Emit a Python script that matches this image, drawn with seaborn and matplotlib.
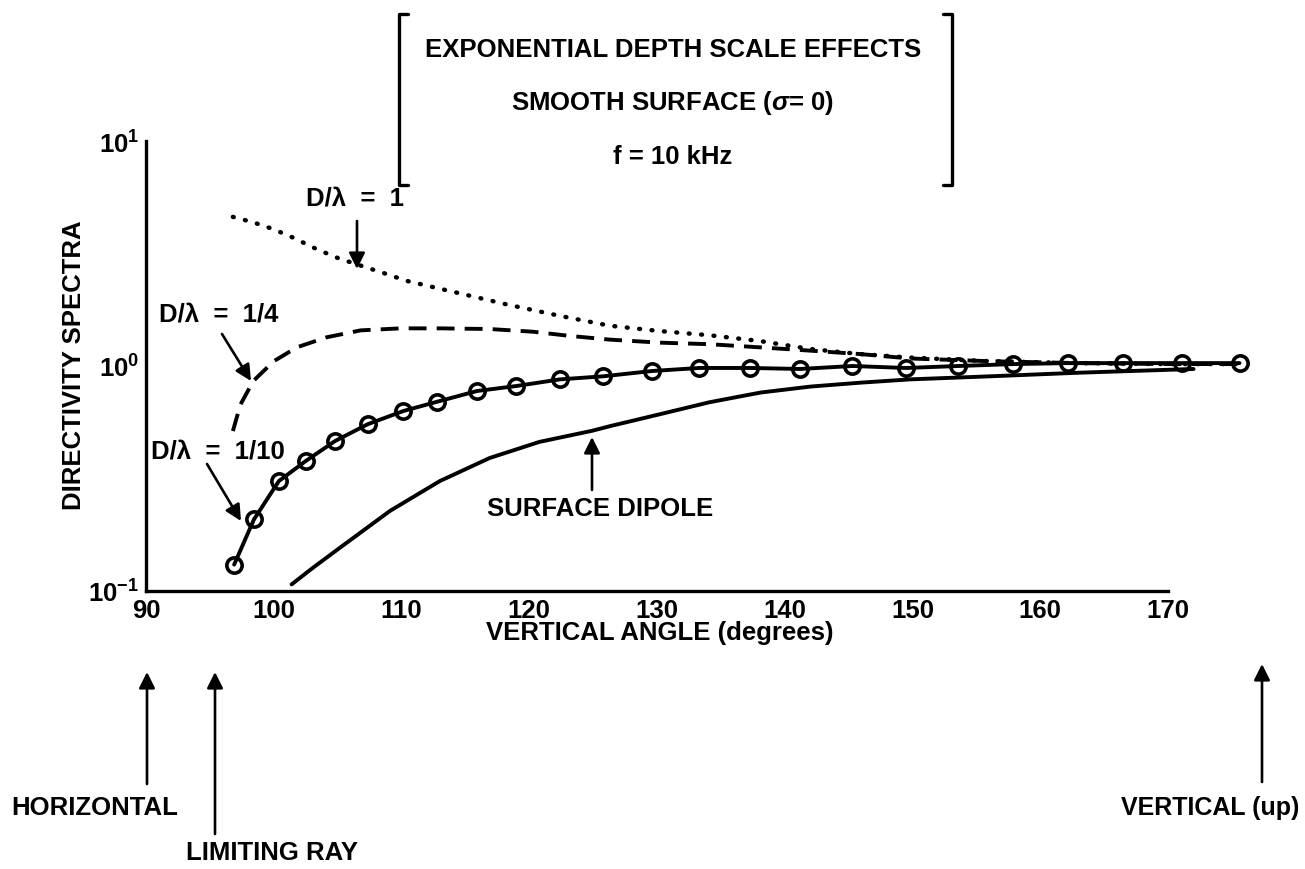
import numpy as np
import pandas as pd
import matplotlib
matplotlib.use("Agg")
import matplotlib.pyplot as plt
import seaborn as sns
from matplotlib.lines import Line2D
from matplotlib.ticker import NullLocator, FixedLocator

# ---------------- data ----------------
# D/lambda = 1/10 (solid with open circles)
tenth_x = [96.9, 98.45, 100.4, 102.5, 104.8, 107.35, 110.15, 112.8, 115.9, 119.0,
           122.4, 125.8, 129.6, 133.3, 137.3, 141.2, 145.3, 149.5, 153.6, 157.9,
           162.2, 166.5, 171.1, 175.6]
tenth_y = [0.131, 0.208, 0.308, 0.378, 0.464, 0.551, 0.631, 0.694, 0.774, 0.815,
           0.872, 0.90, 0.95, 0.98, 0.98, 0.97, 1.0, 0.98, 1.0, 1.02,
           1.03, 1.03, 1.03, 1.03]

# Surface dipole (solid)
dipole_x = [101.4, 103.0, 105.2, 109.1, 113.0, 116.9, 120.8, 124.9, 126.3, 130.2,
            134.1, 138.1, 142.0, 145.9, 149.8, 156.1, 163.1, 172.0]
dipole_y = [0.107, 0.126, 0.156, 0.227, 0.308, 0.39, 0.46, 0.515, 0.54, 0.61,
            0.69, 0.762, 0.81, 0.843, 0.872, 0.90, 0.934, 0.97]

# D/lambda = 1 (dotted)
one_x = [96.8, 98.4, 100.0, 101.6, 103.1, 104.8, 106.5, 108.5, 110.4, 114.3,
         118.2, 122.4, 126.3, 130.2, 134.1, 138.1, 142.0, 145.9, 149.8, 156.1,
         163.0, 170.0, 175.6]
one_y = [4.6, 4.35, 4.05, 3.7, 3.36, 3.05, 2.83, 2.6, 2.39, 2.12,
         1.88, 1.67, 1.51, 1.43, 1.37, 1.29, 1.19, 1.13, 1.09, 1.05,
         1.03, 1.02, 1.02]

# D/lambda = 1/4 (dashed)
quarter_x = [96.8, 97.4, 98.4, 100.0, 101.8, 104.1, 106.8, 109.9, 113.0, 116.9,
             120.3, 123.2, 126.3, 130.2, 134.1, 138.1, 142.0, 145.9, 149.8, 156.1,
             163.0, 170.0, 175.6]
quarter_y = [0.514, 0.675, 0.858, 1.05, 1.21, 1.34, 1.44, 1.47, 1.47, 1.46,
             1.42, 1.36, 1.31, 1.27, 1.25, 1.21, 1.17, 1.13, 1.08, 1.05,
             1.03, 1.02, 1.02]

x_ticks = [90, 100, 110, 120, 130, 140, 150, 160, 170]
y_ticks = [0.1, 1, 10]

title_lines = ["EXPONENTIAL DEPTH SCALE EFFECTS",
               "SMOOTH SURFACE ($\\sigma$= 0)",
               "f = 10 kHz"]

# ---------------- style ----------------
sns.set_theme(style="white", rc={
    "axes.edgecolor": "black", "text.color": "black", "axes.labelcolor": "black",
    "xtick.color": "black", "ytick.color": "black"})
plt.rcParams["font.family"] = ["Liberation Sans", "DejaVu Sans"]
plt.rcParams["font.weight"] = "bold"
plt.rcParams["axes.labelweight"] = "bold"
plt.rcParams["axes.unicode_minus"] = False
plt.rcParams["mathtext.fontset"] = "custom"
plt.rcParams["mathtext.rm"] = "Liberation Sans:bold"
plt.rcParams["mathtext.it"] = "Liberation Sans:italic:bold"
plt.rcParams["mathtext.bf"] = "Liberation Sans:bold"

W, H = 1305, 870
fig = plt.figure(figsize=(W / 100, H / 100), dpi=100)
ax = fig.add_axes([146 / W, (H - 592) / H, 1124.2 / W, 450 / H])

lw = 2.8
sns.lineplot(x=dipole_x, y=dipole_y, ax=ax, color="black", lw=lw, sort=False)
sns.lineplot(x=tenth_x, y=tenth_y, ax=ax, color="black", lw=lw, sort=False,
             marker="o", markersize=11, markerfacecolor="none",
             markeredgecolor="black", markeredgewidth=2.6)
l_one = sns.lineplot(x=one_x, y=one_y, ax=ax, color="black", lw=3.2, sort=False).lines[-1]
l_one.set_dashes((0.2, 2.6))
l_one.set_dash_capstyle("round")
l_q = sns.lineplot(x=quarter_x, y=quarter_y, ax=ax, color="black", lw=lw, sort=False).lines[-1]
l_q.set_dashes((4.6, 2.6))

ax.set_yscale("log")
ax.set_ylim(0.1, 10)
ax.set_xlim(90, 178)
ax.xaxis.set_major_locator(FixedLocator(x_ticks))
ax.yaxis.set_major_locator(FixedLocator(y_ticks))
ax.yaxis.set_minor_locator(NullLocator())
ax.xaxis.set_minor_locator(NullLocator())
for s in ["top", "right"]:
    ax.spines[s].set_visible(False)
for s in ["left", "bottom"]:
    ax.spines[s].set_linewidth(2.4)
ax.spines["bottom"].set_bounds(90, 170)
ax.tick_params(axis="both", direction="in", width=2, labelsize=18.5, pad=5)
ax.tick_params(axis="x", length=6)
ax.tick_params(axis="y", length=7)
for t in ax.get_xticklabels() + ax.get_yticklabels():
    t.set_fontweight("bold")

fs = 18.5
ax.set_xlabel("VERTICAL ANGLE (degrees)", fontsize=fs, fontweight="bold")
ax.set_ylabel("DIRECTIVITY SPECTRA", fontsize=fs, fontweight="bold")
ax.xaxis.set_label_coords((660 - 146) / 1124.2, -(621 - 592) / 450)
ax.yaxis.set_label_coords((86 - 146) / 1124.2, (592 - 365) / 450)

# ---------------- annotations ----------------
def px2x(px):
    return 90 + (px - 146) / 12.775

def py2y(py):
    return 10 ** ((365 - py) / 225)

arrow = dict(arrowstyle="-|>", lw=1.9, color="black", mutation_scale=24,
             shrinkA=0, shrinkB=0)
labels = [("D/λ  =  1", 355, 196, (357, 220), (357, 268)),
          ("D/λ  =  1/4", 219, 313, (222, 333), (251, 380)),
          ("D/λ  =  1/10", 218, 450, (207, 463), (241, 520)),
          ("SURFACE DIPOLE", 600, 507, (592, 489), (592, 436))]
for txt, cx, cy, a0, a1 in labels:
    ax.text(px2x(cx), py2y(cy), txt, ha="center", va="center", fontsize=fs,
            fontweight="bold")
    ax.annotate("", xy=(px2x(a1[0]), py2y(a1[1])),
                xytext=(px2x(a0[0]), py2y(a0[1])), arrowprops=arrow)

# bottom reference arrows
def fy(py):
    return (H - py) / H

bottom = [("HORIZONTAL", 95, 808, 147, 785, 673, "center", fs),
          ("LIMITING RAY", 272, 853, 215, 835, 673, "center", fs),
          ("VERTICAL (up)", 1299, 808, 1262, 783, 665, "right", 18)]
for txt, cx, cy, ax_px, y0, y1, ha, size in bottom:
    ax.annotate("", xy=(px2x(ax_px), fy(y1)), xytext=(px2x(ax_px), fy(y0)),
                xycoords=("data", "figure fraction"),
                textcoords=("data", "figure fraction"),
                arrowprops=arrow, annotation_clip=False)
    ax.annotate(txt, xy=(px2x(cx), fy(cy)), xycoords=("data", "figure fraction"),
                ha=ha, va="center", fontsize=size, fontweight="bold",
                annotation_clip=False)

# title block with brackets
for line, py in zip(title_lines, [50, 103, 157]):
    fig.text(673 / W, fy(py), line, ha="center", va="center", fontsize=fs,
             fontweight="bold")
top, bot = fy(15), fy(186)
for bx, d in [(399, 1), (952, -1)]:
    x0 = bx / W
    x1 = (bx + d * 9) / W
    fig.add_artist(Line2D([x1, x0, x0, x1], [top, top, bot, bot],
                          transform=fig.transFigure, color="black", lw=2.4))

fig.savefig("out.png", dpi=100)
